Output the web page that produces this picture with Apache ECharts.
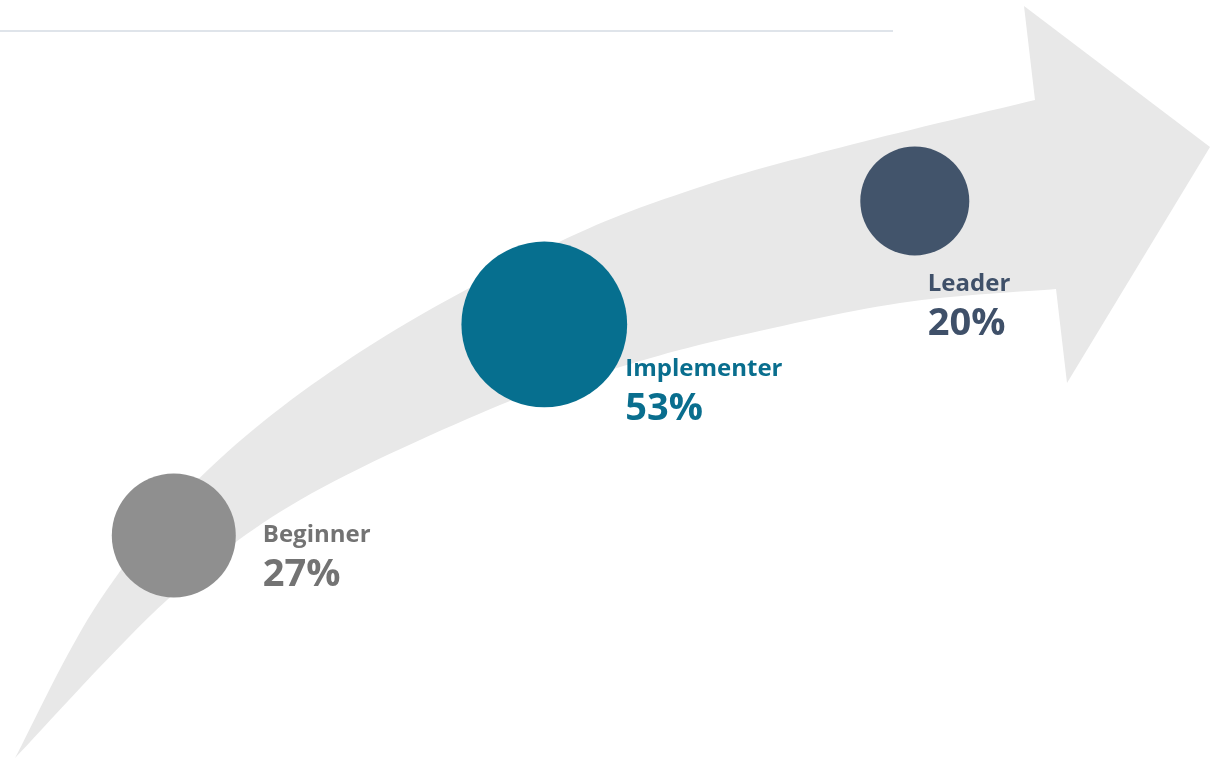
<!DOCTYPE html>
<html>
<head>
<meta charset="utf-8">
<title>Maturity stages</title>
<script src="https://cdn.jsdelivr.net/npm/echarts@6/dist/echarts.min.js"></script>
<style>
  html, body { margin: 0; padding: 0; background: #ffffff; }
  #chart { width: 1210px; height: 759px; }
</style>
</head>
<body>
<div id="chart"></div>
<script>
// Stages of the maturity path and the share of respondents in each
const stages = ['Beginner', 'Implementer', 'Leader'];
const shares = [27, 53, 20];

// Per-stage styling
const bubbleColors = ['#8f8f8f', '#066f8f', '#42546b'];
const labelColors = ['#737373', '#096e8e', '#3f5069'];
// Label placement relative to each bubble centre (px)
const labelOffsets = [[89, 23], [81, 68], [13, 106]];

// Bubble diameter grows with the share (compressed power scale)
function bubbleSize(share) {
  return 30.06 * Math.pow(share, 0.43);
}

// Outline of the sweeping background arrow (decorative)
const arrowUpper = [[15, 758], [100, 600], [210, 468], [363, 350], [557, 243], [700, 187], [850, 145], [1035, 100]];
const arrowLower = [[15, 758], [167, 600], [300, 500], [500, 405], [610, 370], [720, 340], [900, 303], [1056, 289]];
const arrowHead = [[1024, 6], [1210, 147], [1067, 383]];

// Sample a smooth Catmull-Rom curve through the given points
function smoothPoints(pts) {
  const out = [pts[0].slice()];
  for (let i = 0; i < pts.length - 1; i++) {
    const p0 = pts[i - 1] || pts[i];
    const p1 = pts[i];
    const p2 = pts[i + 1];
    const p3 = pts[i + 2] || p2;
    const steps = 16;
    for (let s = 1; s <= steps; s++) {
      const t = s / steps, t2 = t * t, t3 = t2 * t;
      const pt = [0, 1].map(function (k) {
        return 0.5 * ((2 * p1[k]) + (-p0[k] + p2[k]) * t +
          (2 * p0[k] - 5 * p1[k] + 4 * p2[k] - p3[k]) * t2 +
          (-p0[k] + 3 * p1[k] - 3 * p2[k] + p3[k]) * t3);
      });
      out.push(pt);
    }
  }
  return out;
}

function arrowOutline() {
  const upper = smoothPoints(arrowUpper);
  const lower = smoothPoints(arrowLower).reverse();
  return upper.concat(arrowHead.map(function (p) { return p.slice(); }), lower);
}

const seriesData = stages.map(function (name, i) {
  const r = bubbleSize(shares[i]) / 2;
  return {
    name: name,
    value: [i + 1, i + 1, shares[i]],
    itemStyle: { color: bubbleColors[i], opacity: 1 },
    label: {
      position: [r + labelOffsets[i][0], r + labelOffsets[i][1]],
      color: labelColors[i],
      rich: {
        name: { fontFamily: 'Open Sans', fontWeight: 'bold', fontSize: 24, lineHeight: 34, color: labelColors[i] },
        pct: { fontFamily: 'Open Sans', fontWeight: 'bold', fontSize: 38, lineHeight: 46, color: labelColors[i] }
      }
    }
  };
});

const chart = echarts.init(document.getElementById('chart'), null, { renderer: 'canvas' });

chart.setOption({
  backgroundColor: '#ffffff',
  animation: false,
  grid: { left: 0, right: 0, top: 0, bottom: 0 },
  xAxis: {
    type: 'value',
    min: 0.5309,
    max: 3.7968,
    show: false
  },
  yAxis: {
    type: 'log',
    logBase: 10,
    min: 0.4799,
    max: 5.806,
    show: false
  },
  graphic: [
    {
      type: 'line',
      z: 0,
      shape: { x1: 0, y1: 31, x2: 893, y2: 31 },
      style: { stroke: '#dfe4ea', lineWidth: 2 }
    },
    {
      type: 'polygon',
      z: 0,
      shape: { points: arrowOutline() },
      style: { fill: '#e8e8e8', stroke: null }
    }
  ],
  series: [
    {
      type: 'scatter',
      z: 5,
      symbol: 'circle',
      symbolSize: function (val) { return bubbleSize(val[2]); },
      itemStyle: { opacity: 1 },
      data: seriesData,
      label: {
        show: true,
        opacity: 1,
        align: 'left',
        verticalAlign: 'middle',
        formatter: function (p) {
          return '{name|' + p.name + '}\n{pct|' + p.value[2] + '%}';
        }
      },
      emphasis: { disabled: true }
    }
  ]
});
</script>
</body>
</html>
